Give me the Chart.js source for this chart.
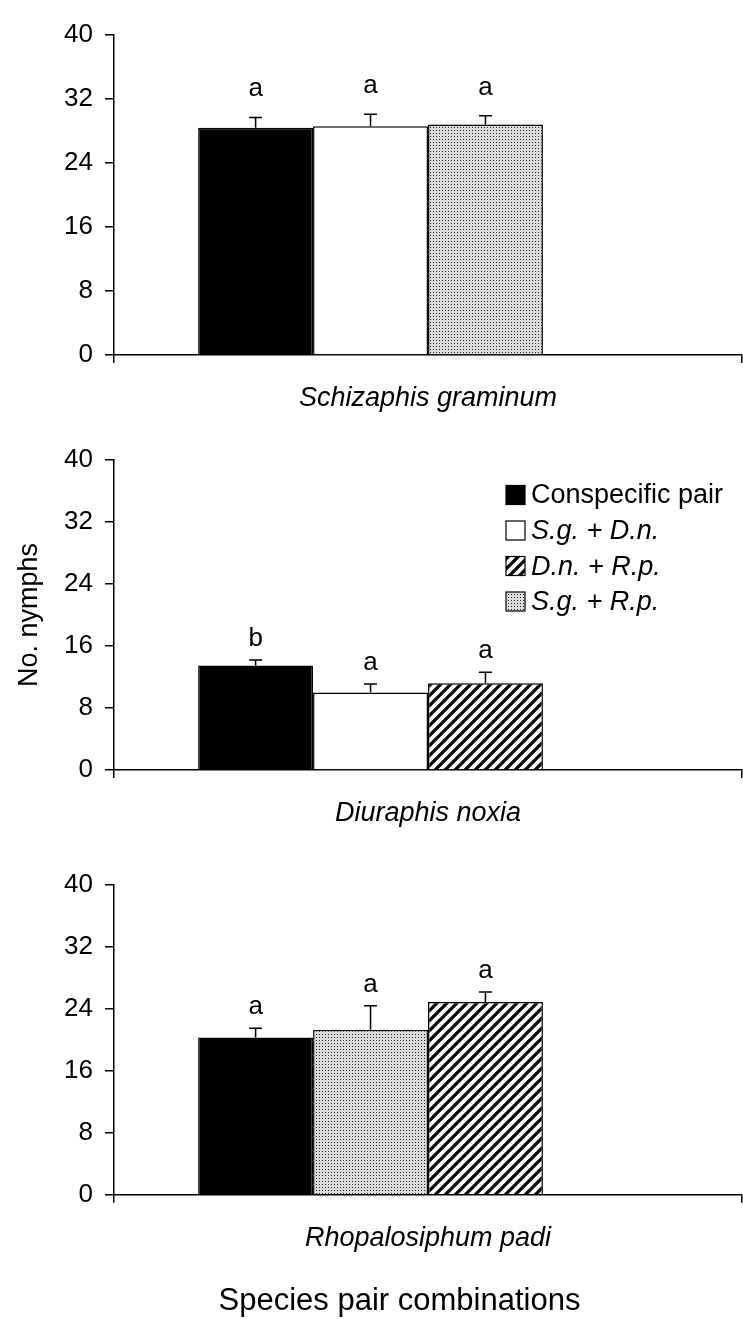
<!DOCTYPE html>
<html lang="en">
<head>
<meta charset="UTF-8">
<meta name="viewport" content="width=device-width, initial-scale=1.0">
<title>No. nymphs by species pair</title>
<script src="https://cdn.jsdelivr.net/npm/chart.js"></script>
<style>
  body { margin: 0; background: #fff; }
  .painel { position: relative; width: 743px; }
</style>
</head>
<body>
<div class="painel" style="height:425px"><canvas id="g1"></canvas></div>
<div class="painel" style="height:425px"><canvas id="g2"></canvas></div>
<div class="painel" style="height:488px"><canvas id="g3"></canvas></div>
<script>
// dados
const seriesNames = ['Conspecific pair', 'S.g. + D.n.', 'D.n. + R.p.', 'S.g. + R.p.'];
const yTicks = [0, 8, 16, 24, 32, 40];

const species1 = ['Schizaphis graminum'];
const order1 = ['Conspecific pair', 'S.g. + D.n.', 'S.g. + R.p.'];
const means1 = [28.4, 28.6, 28.8];
const errors1 = [1.3, 1.5, 1.1];
const letters1 = ['a', 'a', 'a'];

const species2 = ['Diuraphis noxia'];
const order2 = ['Conspecific pair', 'S.g. + D.n.', 'D.n. + R.p.'];
const means2 = [13.5, 10.0, 11.2];
const errors2 = [0.7, 1.1, 1.4];
const letters2 = ['b', 'a', 'a'];

const species3 = ['Rhopalosiphum padi'];
const order3 = ['Conspecific pair', 'S.g. + R.p.', 'D.n. + R.p.'];
const means3 = [20.3, 21.3, 24.9];
const errors3 = [1.2, 3.1, 1.3];
const letters3 = ['a', 'a', 'a'];

const fonte = '"Liberation Sans", Arial, sans-serif';

// padroes de preenchimento
function hachura() {
  const c = document.createElement('canvas'); c.width = 10; c.height = 10;
  const x = c.getContext('2d');
  x.fillStyle = '#fff'; x.fillRect(0, 0, 10, 10);
  x.strokeStyle = '#000'; x.lineWidth = 3.3;
  x.beginPath();
  x.moveTo(-5, 5); x.lineTo(5, -5);
  x.moveTo(0, 10); x.lineTo(10, 0);
  x.moveTo(5, 15); x.lineTo(15, 5);
  x.stroke();
  return x.createPattern(c, 'repeat');
}
function pontilhado() {
  const c = document.createElement('canvas'); c.width = 3; c.height = 3;
  const x = c.getContext('2d');
  x.fillStyle = '#dcdcdc'; x.fillRect(0, 0, 3, 3);
  x.fillStyle = '#222'; x.fillRect(1, 1, 1, 1);
  return x.createPattern(c, 'repeat');
}
const fills = {
  'Conspecific pair': '#000',
  'S.g. + D.n.': '#fff',
  'D.n. + R.p.': hachura(),
  'S.g. + R.p.': pontilhado()
};

// barras de erro e letras
const errorBars = {
  id: 'errorBars',
  afterDatasetsDraw(chart, args, opts) {
    const ctx = chart.ctx, y = chart.scales.y;
    ctx.save();
    chart.data.datasets.forEach((ds, i) => {
      if (!ds.errs) return;
      const meta = chart.getDatasetMeta(i);
      meta.data.forEach((bar, j) => {
        const v = ds.data[j];
        if (v == null) return;
        const top = y.getPixelForValue(v + ds.errs[j]);
        ctx.strokeStyle = '#000'; ctx.lineWidth = 1.5;
        ctx.beginPath();
        ctx.moveTo(bar.x, bar.y); ctx.lineTo(bar.x, top);
        ctx.moveTo(bar.x - 6.5, top); ctx.lineTo(bar.x + 6.5, top);
        ctx.stroke();
        ctx.fillStyle = '#000';
        ctx.font = '26px ' + fonte;
        ctx.textAlign = 'center'; ctx.textBaseline = 'alphabetic';
        ctx.fillText(ds.letters[j], bar.x, top - opts.gap);
      });
    });
    ctx.restore();
  }
};

// legenda dentro da area do grafico
const legendaInterna = {
  id: 'legendaInterna',
  afterDraw(chart, args, opts) {
    if (!opts.show) return;
    const ctx = chart.ctx, ca = chart.chartArea;
    ctx.save();
    chart.data.datasets.forEach((ds, i) => {
      const yc = ca.top + 35 + i * 35.5;
      const x0 = 506;
      ctx.fillStyle = ds.backgroundColor;
      ctx.fillRect(x0, yc - 9.5, 19, 19);
      ctx.strokeStyle = '#000'; ctx.lineWidth = 1.2;
      ctx.strokeRect(x0, yc - 9.5, 19, 19);
      ctx.fillStyle = '#000';
      ctx.font = (ds.label === 'Conspecific pair' ? '' : 'italic ') + '27px ' + fonte;
      ctx.textAlign = 'left'; ctx.textBaseline = 'middle';
      ctx.fillText(ds.label, x0 + 25, yc + 1);
    });
    ctx.restore();
  }
};

function montar(id, species, order, means, errors, letters, extra) {
  const datasets = order.map((name, i) => ({
    label: name,
    data: [means[i]],
    errs: [errors[i]],
    letters: [letters[i]],
    backgroundColor: fills[name],
    borderColor: '#000',
    borderWidth: 1.5
  }));
  // quarta posicao vazia, como no original
  const resto = seriesNames.find(n => !order.includes(n));
  datasets.push({ label: resto, data: [null], backgroundColor: fills[resto], borderColor: '#000', borderWidth: 1.5 });

  const padLeft = extra.padLeft || 0;

  return new Chart(document.getElementById(id), {
    type: 'bar',
    data: { labels: species, datasets: datasets },
    options: {
      responsive: true,
      maintainAspectRatio: false,
      animation: false,
      categoryPercentage: 0.732,
      barPercentage: 1,
      layout: { padding: { top: 35, right: 1, left: padLeft, bottom: 0 } },
      plugins: {
        legend: { display: false },
        tooltip: { enabled: false },
        legendaInterna: { show: !!extra.legend },
        errorBars: { gap: extra.gap },
        title: {
          display: !!extra.title,
          text: extra.title || '',
          position: 'bottom',
          color: '#000',
          font: { size: 31, family: fonte, weight: 'normal' },
          padding: { top: 8, bottom: 18 }
        }
      },
      scales: {
        x: {
          offset: true,
          grid: { offset: true, drawOnChartArea: false, color: '#000', tickLength: 8, lineWidth: 1.5 },
          border: { color: '#000', width: 1.5 },
          ticks: { color: '#000', padding: 19, font: { size: 27, style: 'italic', family: fonte } },
          afterFit: s => { s.height = extra.xh; }
        },
        y: {
          min: 0, max: 40,
          afterBuildTicks: s => { s.ticks = yTicks.map(v => ({ value: v })); },
          grid: { drawOnChartArea: false, color: '#000', tickLength: 9, lineWidth: 1.5 },
          border: { color: '#000', width: 1.5 },
          ticks: { color: '#000', padding: 12, font: { size: 26, family: fonte } },
          title: {
            display: !!extra.ytitle,
            text: extra.ytitle || '',
            color: '#000',
            font: { size: 27, family: fonte },
            padding: { top: 13, bottom: 0 }
          },
          afterFit: s => { s.width = 114 - padLeft; }
        }
      }
    },
    plugins: [errorBars, legendaInterna]
  });
}

montar('g1', species1, order1, means1, errors1, letters1, { xh: 70, gap: 21 });
montar('g2', species2, order2, means2, errors2, letters2, { xh: 80, gap: 14, legend: true, ytitle: 'No. nymphs' });
montar('g3', species3, order3, means3, errors3, letters3, { xh: 80, gap: 14, padLeft: 57, title: 'Species pair combinations' });
</script>
</body>
</html>
